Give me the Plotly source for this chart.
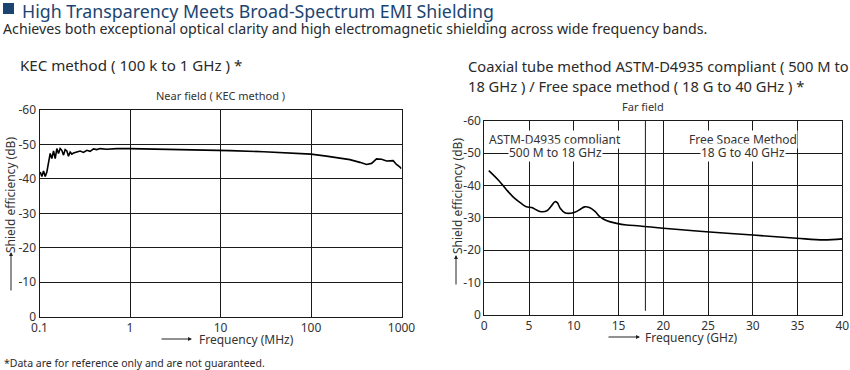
import plotly.graph_objects as go

# ---------------- data ----------------
kec_freq_mhz = [0.1018, 0.1062, 0.1108, 0.1156, 0.1206, 0.1258, 0.1313, 0.1369, 0.1429, 0.1491,
                0.1555, 0.1622, 0.1692, 0.1765, 0.1842, 0.1921, 0.2005, 0.2091, 0.2182, 0.2277,
                0.2375, 0.2585, 0.2813, 0.3062, 0.3333, 0.3627, 0.3949, 0.4298, 0.4677, 0.5541,
                0.7145, 1.0, 3.0, 12.7, 30, 100, 148, 208, 269, 347, 411, 467, 530, 602, 684,
                808, 880, 955, 1000]
kec_se_db = [-42.0, -40.7, -42.3, -40.7, -42.0, -44.5, -47.4, -45.9, -48.1, -45.9,
             -48.8, -47.4, -48.8, -48.3, -46.9, -48.5, -48.1, -46.6, -47.8, -47.2,
             -47.5, -47.8, -48.1, -47.7, -48.3, -48.0, -48.7, -48.5, -48.8, -48.6,
             -48.8, -48.8, -48.6, -48.2, -47.9, -47.2, -46.6, -46.0, -45.6, -44.8,
             -44.2, -44.5, -45.8, -45.7, -45.2, -45.3, -44.2, -43.5, -43.0]

coax_freq_ghz = [0.5, 1.56, 2.5, 3.4, 4.2, 4.7, 5.3, 5.85, 6.4, 7.0, 7.5, 7.9, 8.15, 8.5, 9.0,
                 9.6, 10.1, 10.7, 11.2, 11.8, 12.4, 12.9, 13.7, 14.8, 15.9, 17.4, 20, 24.8,
                 30, 34.9, 37.9, 40]
coax_se_db = [-44.6, -41.7, -38.6, -36.0, -34.3, -33.4, -33.2, -32.4, -31.9, -32.2, -33.7,
              -35.0, -34.7, -32.9, -31.6, -31.4, -31.7, -32.6, -33.4, -33.1, -31.9, -30.4,
              -29.1, -28.3, -27.8, -27.5, -26.8, -25.7, -24.7, -23.7, -23.2, -23.5]

y_tick_vals = [0, -10, -20, -30, -40, -50, -60]
y_tick_text = ["0", "-10", "-20", "-30", "-40", "-50", "-60"]
kec_x_ticks = [0.1, 1, 10, 100, 1000]
kec_x_text = ["0.1", "1", "10", "100", "1000"]
coax_x_ticks = [0, 5, 10, 15, 20, 25, 30, 35, 40]

# ---------------- layout helpers ----------------
W, H = 850, 370
def fx(px):
    return px / W
def fy(py):
    return 1 - py / H

FONT = "Noto Sans"
GRID = "#1a1a1a"
TXT = "#333333"

fig = go.Figure()
fig.add_trace(go.Scatter(x=kec_freq_mhz, y=kec_se_db, mode="lines",
                         line=dict(color="#000000", width=1.6), xaxis="x", yaxis="y",
                         showlegend=False, hoverinfo="skip"))
fig.add_trace(go.Scatter(x=coax_freq_ghz, y=coax_se_db, mode="lines", line_shape="spline",
                         line=dict(color="#000000", width=1.6), xaxis="x2", yaxis="y2",
                         showlegend=False, hoverinfo="skip"))

axis_common = dict(showline=True, linecolor=GRID, linewidth=1, mirror=True, showgrid=True,
                   gridcolor=GRID, gridwidth=1, zeroline=False, ticks="", automargin=False,
                   tickfont=dict(family=FONT, size=12, color=TXT))

fig.update_layout(
    template="none",
    width=W, height=H, autosize=False,
    margin=dict(l=0, r=0, t=0, b=0, pad=0),
    paper_bgcolor="white", plot_bgcolor="white",
    font=dict(family=FONT, color=TXT),
    xaxis=dict(domain=[fx(39.5), fx(401.5)], type="log", range=[-1, 3],
               tickvals=kec_x_ticks, ticktext=kec_x_text, anchor="y", **axis_common),
    yaxis=dict(domain=[fy(316.7), fy(110)], range=[0, -60], tickvals=y_tick_vals,
               ticktext=y_tick_text, anchor="x", **axis_common),
    xaxis2=dict(domain=[fx(484.3), fx(842.3)], range=[0, 40], tickvals=coax_x_ticks,
                anchor="y2", **axis_common),
    yaxis2=dict(domain=[fy(315), fy(120.7)], range=[0, -60], tickvals=y_tick_vals,
                ticktext=y_tick_text, anchor="x2", **axis_common),
)

# 18 GHz boundary line (stops just above the axis)
fig.add_shape(type="line", xref="x2", yref="y2", x0=18, x1=18, y0=-60, y1=-1.3,
              line=dict(color=GRID, width=1))

ann = []
def text(px, py, s, size, color=TXT, xanchor="left", yanchor="middle", textangle=0, bg=None):
    d = dict(x=fx(px), y=fy(py), xref="paper", yref="paper", text=s, showarrow=False,
             xanchor=xanchor, yanchor=yanchor, textangle=textangle,
             font=dict(family=FONT, size=size, color=color))
    if bg:
        d.update(bgcolor=bg, borderpad=0)
    ann.append(d)

# title block
fig.add_shape(type="rect", xref="paper", yref="paper", x0=fx(3), x1=fx(14), y0=fy(14), y1=fy(3),
              fillcolor="#1b4570", line=dict(width=0))
text(20, 10.5, "High Transparency Meets Broad-Spectrum EMI Shielding", 17.8, color="#1b4570")
text(1, 28.5, "Achieves both exceptional optical clarity and high electromagnetic shielding across wide frequency bands.", 14.2, color="#2a2a2a")

# panel titles
text(18, 65, "KEC method ( 100 k to 1 GHz ) *", 15.1, color="#2a2a2a")
text(466, 66, "Coaxial tube method ASTM-D4935 compliant ( 500 M to", 14.7, color="#2a2a2a")
text(466, 86, "18 GHz ) / Free space method ( 18 G to 40 GHz ) *", 14.7, color="#2a2a2a")
text(220, 95, "Near field ( KEC method )", 11, xanchor="center")
text(643, 107, "Far field", 11, xanchor="center")

# in-plot region labels
text(555, 139.5, "ASTM-D4935 compliant", 12, xanchor="center", bg="white")
text(555, 152, "500 M to 18 GHz", 12, xanchor="center", bg="white")
text(743, 139.5, "Free Space Method", 12, xanchor="center", bg="white")
text(743, 152, "18 G to 40 GHz", 12, xanchor="center", bg="white")

# axis titles
text(197, 339, "Frequency (MHz)", 12)
text(643, 337, "Frequency (GHz)", 12)
text(11, 195, "Shield efficiency (dB)", 12, xanchor="center", textangle=-90)
text(457, 196, "Shield efficiency (dB)", 12, xanchor="center", textangle=-90)

# footnote
text(2, 363, "*Data are for reference only and are not guaranteed.", 10.5, color="#2a2a2a")

# arrows (tail offsets in pixels)
def arrow(x_tail, y_tail, x_head, y_head):
    ann.append(dict(x=fx(x_head), y=fy(y_head), xref="paper", yref="paper",
                    ax=x_tail - x_head, ay=y_tail - y_head, axref="pixel", ayref="pixel",
                    text="", showarrow=True, arrowhead=2, arrowsize=0.8, arrowwidth=1,
                    arrowcolor="#222222"))

arrow(160, 339, 192, 339)
arrow(607, 337, 640, 337)
arrow(11, 292, 11, 252)
arrow(456, 286, 456, 255)

fig.update_layout(annotations=ann)
fig.write_html("out.html", config={"displayModeBar": False},
               post_script="document.body.style.margin='0';document.body.style.overflow='hidden';")
